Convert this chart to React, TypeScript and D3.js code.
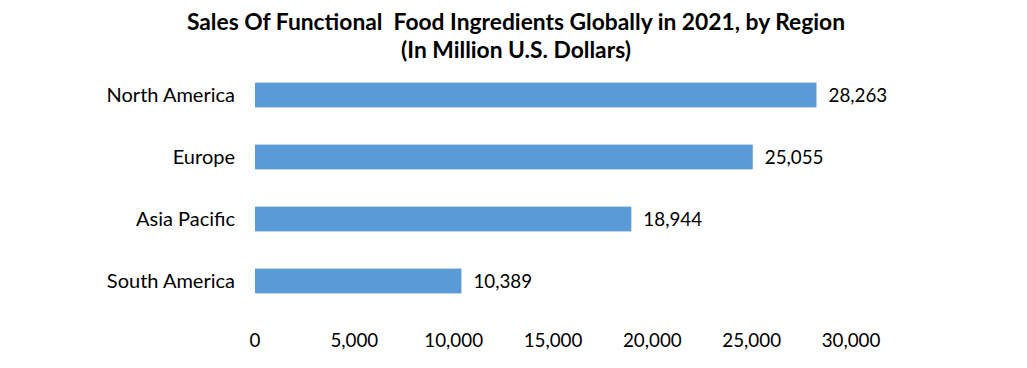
import React, { useEffect, useRef } from "react";
import * as d3 from "d3";

// data
const regions = ["North America", "Europe", "Asia Pacific", "South America"];
const sales = [28263, 25055, 18944, 10389];
const ticks = [0, 5000, 10000, 15000, 20000, 25000, 30000];
const titleLines = [
  "Sales Of Functional  Food Ingredients Globally in 2021, by Region",
  "(In Million U.S. Dollars)",
];

const W = 1027;
const H = 368;
const FONT = "Lato, 'Open Sans', sans-serif";

function BarChart() {
  const ref = useRef<SVGSVGElement>(null);

  useEffect(() => {
    const svg = d3.select(ref.current);
    svg.selectAll("*").remove();

    const x = d3.scaleLinear().domain([0, 30000]).range([255, 851]);
    const y = d3.scaleBand().domain(regions).range([64, 312]).paddingInner(0.6).paddingOuter(0.3);
    const fmt = d3.format(",");

    // title
    svg.append("g")
      .selectAll("text")
      .data(titleLines)
      .enter().append("text")
      .attr("x", 516)
      .attr("y", (d, i) => 30 + i * 28)
      .attr("text-anchor", "middle")
      .attr("font-family", FONT)
      .attr("font-weight", "bold")
      .attr("font-size", 22.8)
      .attr("fill", "#000")
      .style("white-space", "pre")
      .text(d => d);

    const data = regions.map((r, i) => ({ region: r, value: sales[i] }));

    // bars
    svg.append("g")
      .selectAll("rect")
      .data(data)
      .enter().append("rect")
      .attr("x", x(0))
      .attr("y", d => y(d.region)!)
      .attr("width", d => x(d.value) - x(0))
      .attr("height", y.bandwidth())
      .attr("fill", "#5b9bd5");

    // value labels
    svg.append("g")
      .selectAll("text")
      .data(data)
      .enter().append("text")
      .attr("x", d => x(d.value) + 12)
      .attr("y", d => y(d.region)! + y.bandwidth() / 2)
      .attr("dy", "0.35em")
      .attr("font-family", FONT)
      .attr("font-size", 18.8)
      .attr("fill", "#000")
      .text(d => fmt(d.value));

    // category labels
    svg.append("g")
      .selectAll("text")
      .data(regions)
      .enter().append("text")
      .attr("x", 235)
      .attr("y", d => y(d)! + y.bandwidth() / 2)
      .attr("dy", "0.35em")
      .attr("text-anchor", "end")
      .attr("font-family", FONT)
      .attr("font-size", 20)
      .attr("fill", "#000")
      .text(d => d);

    // x tick labels (no axis line in the reference)
    svg.append("g")
      .selectAll("text")
      .data(ticks)
      .enter().append("text")
      .attr("x", d => x(d))
      .attr("y", 340)
      .attr("dy", "0.35em")
      .attr("text-anchor", "middle")
      .attr("font-family", FONT)
      .attr("font-size", 18.8)
      .attr("fill", "#000")
      .text(d => fmt(d));
  }, []);

  return <svg ref={ref} width={W} height={H} style={{ position: "absolute", left: 0, top: 0, background: "#fff" }} />;
}

export default function App() {
  return <BarChart />;
}
